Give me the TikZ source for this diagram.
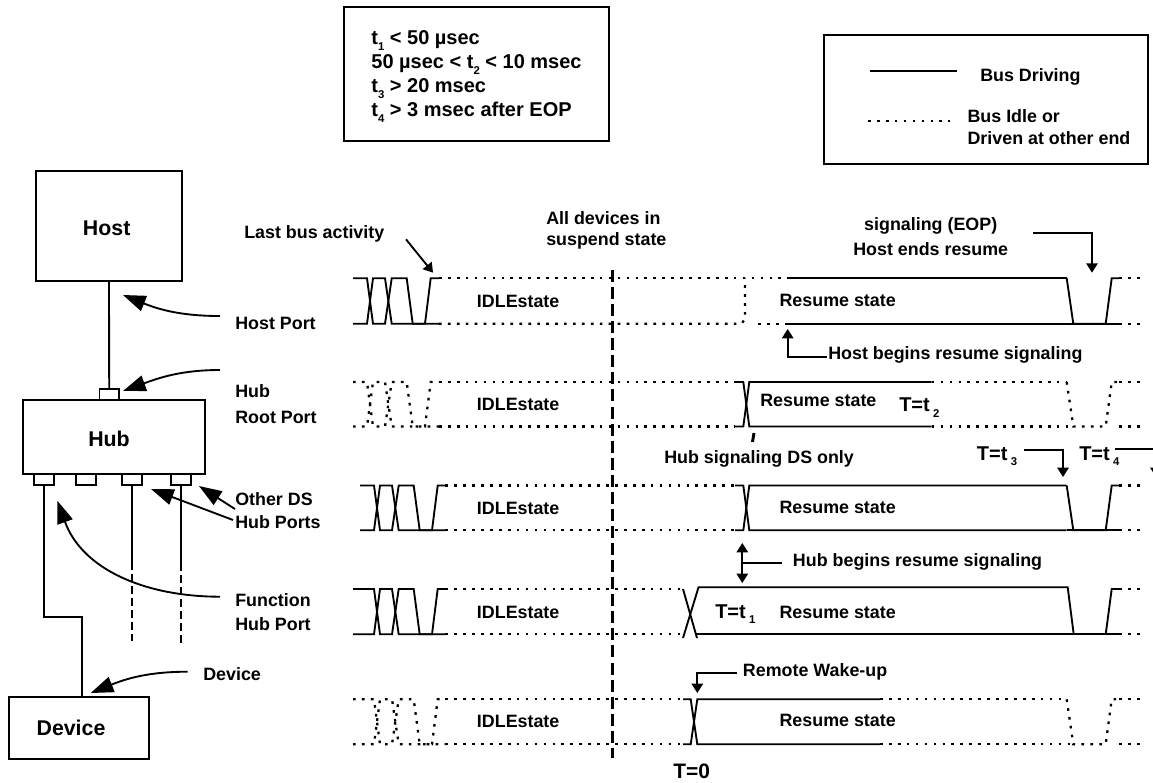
\documentclass[tikz,border=0pt]{standalone}
\usepackage{fontspec}
\setmainfont{Liberation Sans}
\usetikzlibrary{arrows.meta,positioning}
\newcommand{\tsub}[1]{\raisebox{-4pt}{\fontsize{8.5}{8.5}\selectfont #1}}
\newcommand{\burst}[6]{
  \draw[#1] (#2,#5) -- (367+#4,#5) -- (373+#4,#6) -- (385+#4,#6) -- (391.7+#4,#5) -- (406.7+#4,#5) -- (412.7+#4,#6) -- (425+#4,#6) -- (430.7+#4,#5) -- (#3,#5);
  \draw[#1] (#2,#6) -- (367+#4,#6) -- (373+#4,#5) -- (385+#4,#5) -- (391.7+#4,#6) -- (#3,#6);
}
\newcommand{\xover}[6]{
  \draw[bus] (#1,#4) -- (#2,#4) -- (#3,#5) -- (#6,#5);
  \draw[bus] (#1,#5) -- (#2,#5) -- (#3,#4) -- (#6,#4);
}
\newcommand{\notch}[3]{
  \draw[#1] (1066.7,#2) -- (1073.3,#3) -- (1105.7,#3) -- (1111.7,#2) -- (1119,#2);
  \draw[idle] (1119,#2) -- (1141.7,#2);
  \draw[idle] (1119,#3) -- (1141.7,#3);
}
\begin{document}
\begin{tikzpicture}[
    x=0.75pt, y=-0.75pt,
    >={Triangle[length=7pt,width=8.5pt]},
    box/.style={draw, line width=1.5pt, inner sep=0pt},
    portbox/.style={box, line width=1.3pt, minimum width=15pt, minimum height=8.2pt},
    title/.style={anchor=base, inner sep=0pt, font=\fontsize{16}{20}\selectfont\bfseries},
    lbl/.style={anchor=base west, inner sep=0pt, align=left, font=\fontsize{13.4}{18}\selectfont\bfseries},
    tlbl/.style={anchor=base west, inner sep=0pt, font=\fontsize{15}{18}\selectfont\bfseries},
    wire/.style={line width=1.4pt},
    stub/.style={line width=1.4pt, dash pattern=on 6pt off 3pt},
    bus/.style={line width=1.4pt},
    idle/.style={line width=1.7pt, dash pattern=on 2pt off 4.7pt},
    lead/.style={line width=1.4pt, -{Triangle[length=17pt,width=12pt]}},
    pin/.style={line width=1.4pt, ->},
    tzero/.style={line width=1.9pt, dash pattern=on 9pt off 3.8pt}
  ]
  \useasboundingbox (0,0) rectangle (1153,782);

  \node[box, minimum width=198.75pt, minimum height=100.5pt, align=left, font=\fontsize{15}{18}\selectfont\bfseries] (limits) at (476.5,74.3)
    {\rule{0pt}{14pt}t\tsub{1} < 50 µsec\\50 µsec < t\tsub{2} < 10 msec\\t\tsub{3} > 20 msec\\t\tsub{4} > 3 msec after EOP};
  \node[box, minimum width=243pt, minimum height=96.75pt] (legend) at (986,99.5) {};
  \node[lbl] (legendDrive) at (980,81.7) {Bus Driving};
  \node[lbl] (legendIdle) at (967.3,144) {Bus Idle or\\[-2.2pt]Driven at other end};

  \node[box, minimum width=109.5pt, minimum height=82.5pt] (host) at (109,225.7) {};
  \node[title] (hostName) at (106.7,235) {Host};
  \node[portbox, minimum width=14.6pt, minimum height=8.5pt] (rootPort) at (109.2,394.3) {};
  \node[box, minimum width=136.5pt, minimum height=55.5pt] (hub) at (113.7,437) {};
  \node[title] (hubName) at (109,446) {Hub};
  \foreach \name/\xpos in {portFn/44.3, portFree/86, portA/132, portB/181.3}
    \node[portbox] (\name) at (\xpos,479.5) {};
  \node[box, minimum width=104.6pt, minimum height=46.5pt] (device) at (78.8,728.3) {};
  \node[title] (deviceName) at (71,735) {Device};

  \node[lbl] (lblLast) at (244,238) {Last bus activity};
  \node[lbl] (lblHostPort) at (235,329) {Host Port};
  \node[lbl] (lblRootPort) at (235,423.3) {Hub\\[1.5pt]Root Port};
  \node[lbl] (lblOther) at (235,528) {Other DS\\[-.75pt]Hub Ports};
  \node[lbl] (lblFunction) at (235,630.7) {Function\\Hub Port};
  \node[lbl] (lblDevice) at (203,680.7) {Device};
  \node[lbl] (lblSuspend) at (546,245.7) {All devices in\\[-2.2pt]suspend state};
  \node[lbl, align=center] (lblEnds) at (853,255) {signaling (EOP)\\[.75pt]Host ends resume};
  \node[lbl] (lblBegins) at (828,359.3) {Host begins resume signaling};
  \node[lbl] (lblDsOnly) at (664,463) {Hub signaling DS only};
  \node[lbl] (lblHubBegins) at (792.7,566) {Hub begins resume signaling};
  \node[lbl] (lblWake) at (742.7,676) {Remote Wake-up};

  \foreach \name/\ypos in {idleA/307.3, idleB/410, idleC/514, idleD/618, idleE/727.3}
    \node[lbl] (\name) at (476.7,\ypos) {IDLEstate};
  \foreach \name/\xpos/\ypos in {resumeA/779.3/306.7, resumeB/760/406, resumeC/779.3/513.3, resumeD/779.3/618, resumeE/779.3/726.7}
    \node[lbl] (\name) at (\xpos,\ypos) {Resume state};
  \node[tlbl] (timeOne) at (715,618) {T=t\,\tsub{1}};
  \node[tlbl] (timeTwo) at (899,411.7) {T=t\,\tsub{2}};
  \node[tlbl] (timeThree) at (976.7,460) {T=t\,\tsub{3}};
  \node[tlbl] (timeFour) at (1079,460) {T=t\,\tsub{4}};
  \node[title, anchor=base west, font=\fontsize{15.7}{18}\selectfont\bfseries] (timeZero) at (673,778.3) {T=0};

  \foreach \name/\pos in {wireBend/{81.7,616.7}, stubA/{132,562}, endA/{132,641}, stubB/{181.3,563}, endB/{181.3,643},
      tailHost/{220,316}, tipHost/{123,295}, tailRoot/{220,370}, tipRoot/{123,391},
      tailOther/{235,509}, tipOther/{199,486}, tailPorts/{233,520}, tipPorts/{151,489},
      tailFn/{220,596.7}, tipFn/{57.3,500.7}, tailDev/{187.7,671.7}, tipDev/{90.7,693},
      tailLast/{406,239.3}, tipLast/{433,272.7},
      tailEnds/{1033,233}, tipEnds/{1092,272.7}, tailBegins/{826.7,356.7}, tipBegins/{787.7,329},
      tailThree/{1024,450}, tipThree/{1063,477}, tailFour/{1115,449}, tipFour/{1156,477},
      hubArrowUp/{742.3,543}, hubArrowDown/{742.3,583}, hubTail/{781.7,563},
      tailWake/{736.7,673}, tipWake/{697.3,693},
      tickTop/{754,433}, tickBot/{752.5,442}, zeroTop/{612.3,270}, zeroBot/{612.3,758},
      driveFrom/{870,71}, driveTo/{956.7,71}, idleFrom/{868,121}, idleTo/{950,121}}
    \coordinate (\name) at (\pos);

  \draw[wire] (host.south) -- (rootPort.north);
  \draw[wire] (portFn.south) |- (wireBend) -- (wireBend |- device.north);
  \draw[wire] (portA.south) -- (stubA);
  \draw[stub] (stubA) -- (endA);
  \draw[wire] (portB.south) -- (stubB);
  \draw[stub] (stubB) -- (endB);

  \draw[lead] (tailHost) to[out=180, in=-22] (tipHost);
  \draw[lead] (tailRoot) to[out=180, in=20] (tipRoot);
  \draw[lead] (tailOther) -- (tipOther);
  \draw[lead] (tailPorts) -- (tipPorts);
  \draw[lead] (tailFn) to[out=180, in=-70] (tipFn);
  \draw[lead] (tailDev) to[out=180, in=22] (tipDev);
  \draw[pin] (tailLast) -- (tipLast);
  \draw[pin] (tailEnds) -| (tipEnds);
  \draw[pin] (tailBegins) -| (tipBegins);
  \draw[pin] (tailThree) -| (tipThree);
  \draw[pin] (tailFour) -| (tipFour);
  \draw[pin, <->] (hubArrowUp) -- (hubArrowDown);
  \draw[wire] (hubTail) -- (hubTail -| hubArrowUp);
  \draw[pin] (tailWake) -| (tipWake);
  \draw[line width=2.2pt] (tickTop) -- (tickBot);
  \draw[tzero] (zeroTop) -- (zeroBot);
  \draw[bus] (driveFrom) -- (driveTo);
  \draw[idle] (idleFrom) -- (idleTo);

  \burst{bus}{353}{439}{0}{278.3}{323.7}
  \draw[idle] (439,278.3) -- (786.7,278.3);
  \draw[idle] (439,323.7) -- (741.5,323.7) -- (745,319) -- (745,278.3);
  \draw[idle] (758,323.7) -- (786.7,323.7);
  \draw[bus] (786.7,278.3) -- (1066.7,278.3);
  \draw[bus] (786.7,323.7) -- (1119,323.7);
  \notch{bus}{278.3}{323.7}

  \burst{idle}{353}{439}{0}{382}{426.5}
  \draw[idle] (439,382) -- (735,382);
  \draw[idle] (439,426.5) -- (735,426.5);
  \xover{735}{743.3}{749.3}{382}{426.5}{931.7}
  \draw[idle] (931.7,382) -- (1066.7,382);
  \draw[idle] (931.7,426.5) -- (1073.3,426.5);
  \notch{idle}{382}{426.5}

  \burst{bus}{360}{445.3}{7}{485.5}{530.3}
  \draw[idle] (445.3,485.5) -- (735,485.5);
  \draw[idle] (445.3,530.3) -- (735,530.3);
  \xover{735}{743.3}{749.3}{485.5}{530.3}{1066.7}
  \draw[bus] (1066.7,530.3) -- (1119,530.3);
  \notch{bus}{485.5}{530.3}

  \burst{bus}{353}{445.3}{7}{589}{634.3}
  \draw[idle] (445.3,589) -- (683,589);
  \draw[idle] (445.3,634.3) -- (683,634.3);
  \draw[bus] (683,589) -- (697,638);
  \draw[bus] (683,638) -- (698.5,587.3) -- (1067.7,587.3) -- (1073.7,634.3);
  \draw[bus] (696,634.3) -- (1119,634.3);
  \draw[bus] (1105.7,634.3) -- (1111.7,589) -- (1119,589);
  \draw[idle] (1119,589) -- (1141.7,589);
  \draw[idle] (1119,634.3) -- (1141.7,634.3);

  \burst{idle}{353}{445.3}{7}{699.3}{744.3}
  \draw[idle] (445.3,699.3) -- (683,699.3);
  \draw[idle] (445.3,744.3) -- (683,744.3);
  \xover{683}{690.7}{697.3}{699.3}{744.3}{880}
  \draw[idle] (880,699.3) -- (1066.7,699.3);
  \draw[idle] (880,744.3) -- (1073.3,744.3);
  \notch{idle}{699.3}{744.3}
\end{tikzpicture}
\end{document}
